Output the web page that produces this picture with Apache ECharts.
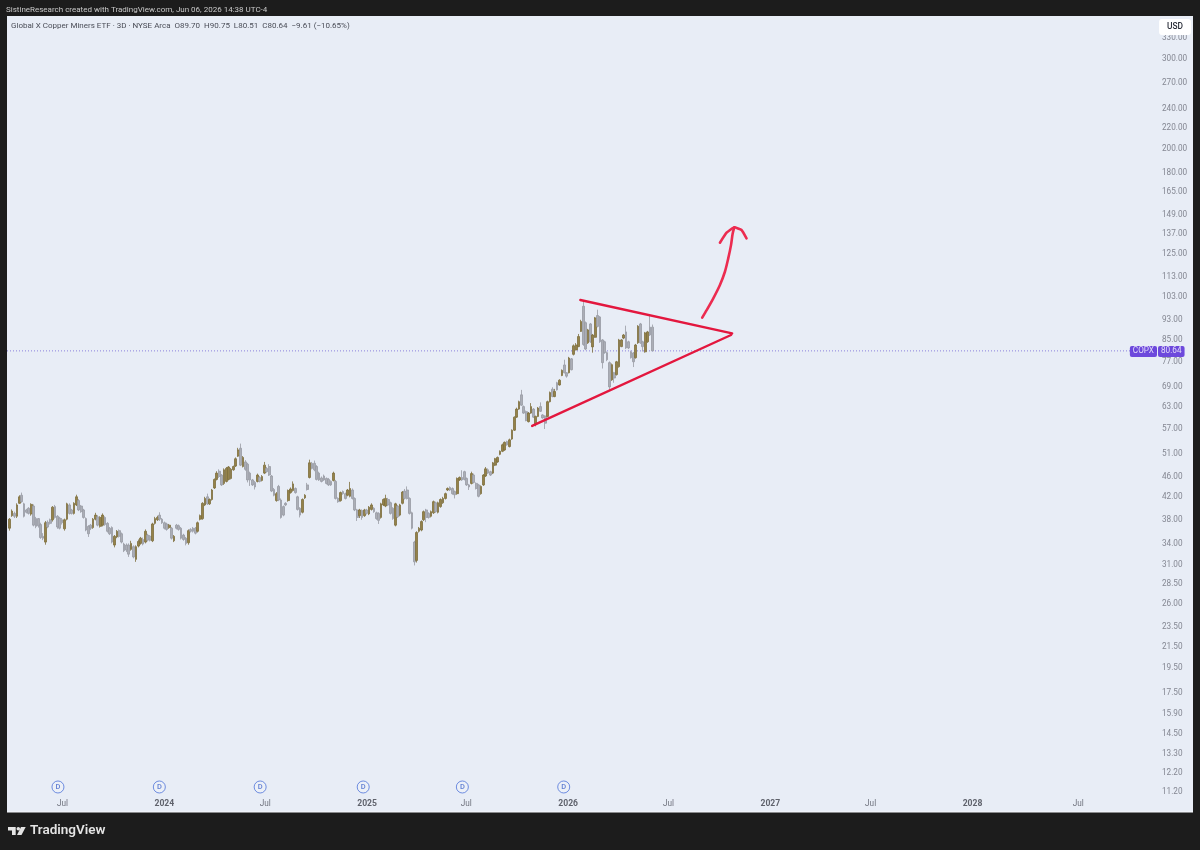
<!DOCTYPE html>
<html><head><meta charset="utf-8">
<style>html,body{margin:0;padding:0;background:#1c1c1c}#c{width:1200px;height:850px}</style>
<script src="https://cdn.jsdelivr.net/npm/echarts@6/dist/echarts.min.js"></script>
</head><body><div id="c"></div>
<script>
const firstBarDate = '2023-03-30';
const barStepDays = 4.296;
// open, close, low, high
const candleRows = [
[36.4,37.9,36.0,38.1],[38.5,39.3,38.3,39.6],[38.9,38.4,38.1,39.2],[38.4,40.4,38.1,40.7],[40.7,41.9,40.6,42.2],[42.2,41.0,40.8,42.7],[40.6,38.4,38.2,40.8],[39.5,39.1,38.9,39.7],[39.8,38.9,38.7,40.0],[38.8,40.5,38.5,40.7],
[40.2,36.9,36.7,40.5],[38.0,36.7,36.4,38.3],[38.0,36.8,36.5,38.1],[37.0,34.9,34.7,37.3],[35.1,34.8,34.5,35.6],[34.2,37.3,33.8,37.6],[37.4,36.6,36.4,37.7],[37.8,37.2,37.0,38.0],[37.8,40.0,37.5,40.2],[40.1,38.2,38.0,40.4],
[38.4,36.6,36.3,38.6],[38.1,36.4,36.2,38.3],[37.8,37.3,37.0,38.1],[36.3,37.8,36.0,38.0],[37.9,40.6,37.7,40.8],[40.4,38.9,38.7,40.7],[39.5,38.9,38.7,39.7],[38.9,40.7,38.7,40.9],[40.4,41.9,40.2,42.3],[41.2,39.5,39.3,41.5],
[40.2,39.2,39.0,40.4],[39.5,38.2,38.0,39.7],[38.0,36.1,35.9,38.2],[36.7,35.5,35.0,36.9],[36.9,36.4,36.1,37.1],[36.5,37.9,36.3,38.1],[37.9,38.6,37.7,39.0],[38.3,36.9,36.7,38.6],[36.7,38.2,36.5,38.4],[36.9,38.6,36.7,38.9],
[38.2,37.0,36.8,38.4],[37.2,35.9,35.7,37.4],[36.4,35.5,35.3,36.6],[36.5,34.2,34.0,36.7],[33.75,35.1,33.4,35.3],[35.0,35.9,34.8,36.1],[36.0,35.1,34.9,36.2],[35.5,34.2,34.0,35.7],[33.9,32.9,32.7,34.1],[33.75,33.0,32.7,34.0],
[33.75,32.4,32.0,34.0],[33.1,34.0,32.9,34.4],[33.5,32.0,31.8,33.7],[31.65,33.5,31.3,33.7],[33.6,34.3,33.4,34.6],[34.0,34.8,33.8,35.0],[34.6,33.9,33.7,34.9],[34.2,35.9,34.0,36.2],[35.3,34.5,34.3,35.5],[35.1,34.5,34.3,35.3],
[34.4,37.1,34.2,37.3],[37.2,38.0,37.0,38.3],[37.8,38.2,37.6,38.5],[38.6,37.9,37.6,39.1],[37.9,37.3,37.1,38.1],[37.3,36.4,36.2,37.5],[37.1,36.2,36.0,37.3],[36.5,36.9,36.3,37.1],[36.4,34.8,34.6,36.6],[34.4,35.1,34.2,35.3],
[36.9,36.4,36.2,37.1],[36.8,36.2,36.0,37.0],[36.4,34.8,34.6,36.6],[35.3,34.6,34.4,35.5],[34.8,34.0,33.7,35.0],[34.1,36.0,33.8,36.2],[36.2,35.9,35.7,36.4],[36.4,35.9,35.7,36.6],[36.4,35.6,35.4,36.6],[35.9,37.3,35.7,37.5],
[37.9,38.5,37.7,38.7],[38.0,40.7,37.8,40.9],[40.4,41.6,40.2,41.9],[41.9,40.6,40.4,42.5],[40.6,41.4,40.4,41.6],[41.4,43.2,41.2,43.4],[43.6,45.3,43.4,45.5],[45.3,46.6,45.1,47.0],[47.0,45.9,45.6,47.4],[46.2,44.2,44.0,46.4],
[44.5,47.3,44.2,47.6],[44.9,47.6,44.7,47.9],[45.3,47.9,45.1,48.1],[45.5,47.4,45.3,47.7],[47.3,48.0,47.1,48.2],[48.1,49.7,47.9,50.0],[50.3,51.7,50.1,52.2],[52.1,48.3,48.1,53.2],[48.0,50.0,47.8,50.3],[49.0,47.4,47.1,49.4],
[48.5,45.2,44.7,48.8],[46.6,45.2,44.0,46.9],[45.2,44.2,44.0,45.4],[44.7,43.8,43.3,45.0],[44.9,46.2,44.7,46.5],[45.7,44.9,44.7,46.0],[45.1,45.9,44.9,46.2],[46.6,48.3,46.4,49.0],[47.6,46.9,46.7,47.9],[48.0,46.2,46.0,48.5],
[46.0,43.0,42.8,46.2],[43.3,42.2,42.0,43.6],[41.2,42.5,41.0,42.8],[43.9,41.3,41.1,44.2],[41.3,38.2,38.0,41.6],[40.1,38.6,38.4,40.3],[40.7,40.4,40.2,40.9],[41.2,43.1,41.0,43.3],[42.7,43.4,42.5,43.7],[43.1,44.4,42.9,44.9],
[43.5,42.7,42.5,43.7],[41.9,39.6,39.4,42.1],[39.8,38.6,38.2,40.0],[39.1,41.4,38.9,41.6],[41.7,42.2,41.5,42.4],[44.2,43.3,43.1,44.6],[45.7,48.8,45.5,49.5],[48.7,47.6,47.4,49.0],[48.7,47.3,47.0,49.3],[48.0,45.3,45.1,48.3],
[46.6,45.2,45.0,46.9],[45.6,44.9,44.7,45.9],[46.0,45.2,45.0,46.3],[45.5,44.5,44.3,45.7],[45.3,44.2,44.0,45.6],[44.9,44.2,44.0,45.1],[45.1,46.6,44.9,46.9],[44.9,41.6,41.4,45.2],[41.6,41.0,40.8,41.8],[41.2,42.7,41.0,42.9],
[42.9,42.5,42.3,43.1],[42.5,41.6,41.4,42.7],[42.2,43.2,42.0,43.4],[42.0,43.5,41.8,44.8],[43.2,41.6,41.4,43.5],[41.6,39.5,39.3,41.8],[39.5,38.2,37.6,39.7],[38.5,39.5,38.1,39.7],[39.4,38.2,37.8,39.6],[38.5,39.5,38.3,39.7],
[39.5,38.9,38.7,39.7],[38.8,40.0,38.6,40.2],[39.6,40.4,39.4,40.7],[39.8,39.2,39.0,40.0],[39.0,38.0,37.8,39.2],[38.9,37.7,37.1,39.1],[38.2,40.6,38.0,40.8],[40.4,41.4,40.2,41.6],[40.2,41.6,40.0,42.3],[41.4,40.4,40.2,41.7],
[40.8,38.9,38.7,41.0],[39.8,38.0,37.8,40.0],[36.9,40.6,36.7,40.8],[40.2,38.3,38.1,40.4],[38.6,40.4,38.4,40.6],[40.7,42.8,40.5,43.0],[43.0,41.6,41.4,43.4],[43.2,41.6,41.4,43.9],[41.6,38.9,38.7,41.8],[39.0,36.4,36.2,39.2],
[34.2,31.3,30.8,34.4],[31.5,35.7,31.2,35.9],[35.9,36.4,35.7,36.6],[36.1,37.5,35.9,37.7],[37.8,39.2,37.6,39.4],[39.5,38.2,37.4,39.7],[38.9,38.2,38.0,39.1],[38.4,39.2,38.2,39.4],[39.0,41.0,38.8,41.2],[40.8,39.2,39.0,41.0],
[39.1,40.8,38.9,41.0],[40.1,41.4,39.9,41.6],[40.8,41.6,40.6,41.9],[41.6,42.5,41.4,42.7],[43.2,43.5,43.0,43.7],[43.7,43.2,43.0,43.9],[43.5,42.5,42.3,43.7],[42.9,42.3,41.6,43.1],[42.5,45.5,42.3,45.7],[45.2,45.7,45.0,45.9],
[45.7,45.2,45.0,47.2],[46.9,45.3,45.1,47.1],[45.5,44.2,44.0,45.7],[44.2,43.8,43.2,44.4],[44.5,46.5,44.3,46.9],[46.2,44.7,44.5,46.5],[44.5,43.5,43.3,44.7],[44.2,42.0,41.8,44.4],[42.5,43.9,42.3,44.1],[44.2,46.2,44.0,46.4],
[46.0,47.5,45.8,47.9],[47.3,46.6,46.4,47.6],[46.9,46.2,46.0,47.1],[46.6,48.8,46.4,49.0],[48.3,49.7,48.1,49.9],[49.0,50.0,48.8,50.2],[50.7,51.4,50.5,51.6],[51.4,52.9,51.2,53.2],[51.7,53.5,51.5,53.7],[53.7,52.9,52.7,53.9],
[52.5,54.1,52.3,54.4],[54.3,56.5,54.1,56.7],[56.5,59.9,56.3,60.1],[59.9,62.1,59.7,62.5],[62.1,64.2,61.9,64.5],[66.2,63.2,63.0,67.7],[62.8,61.0,60.8,63.1],[61.4,59.0,58.8,61.7],[58.7,61.0,58.5,61.3],[61.0,62.8,60.8,63.8],
[62.1,59.9,59.7,62.4],[58.1,60.1,57.5,60.3],[60.1,62.4,59.9,62.7],[62.8,61.5,61.3,64.0],[60.5,59.7,59.5,60.7],[60.2,58.3,56.8,60.4],[60.1,64.2,59.9,64.5],[64.2,66.9,64.0,67.2],[67.9,65.7,65.5,68.5],[65.7,67.2,65.5,68.0],
[69.9,67.7,67.5,70.2],[69.2,70.7,69.0,71.0],[72.2,73.9,72.0,74.2],[75.7,73.1,72.9,77.5],[73.1,72.0,71.5,73.3],[73.1,78.1,72.9,78.5],[77.8,74.1,73.9,78.1],[79.4,82.5,79.0,83.0],[81.0,82.8,80.8,83.5],[82.2,86.0,82.0,87.0],
[88.0,92.0,87.8,92.7],[98.5,83.0,82.5,100.5],[91.5,81.3,80.9,92.0],[83.6,88.6,83.2,89.0],[91.0,84.0,83.6,91.4],[82.1,86.6,80.0,87.0],[85.7,93.5,85.5,93.9],[94.5,90.0,89.6,97.0],[93.9,84.0,83.6,94.3],[84.7,76.5,74.5,85.0],
[84.0,80.0,79.6,84.4],[80.0,77.5,77.0,80.4],[76.5,68.6,67.6,76.9],[70.8,75.8,70.5,76.2],[73.1,71.4,69.9,73.4],[72.5,76.8,72.2,77.1],[75.1,84.7,74.8,85.1],[82.2,84.7,82.0,85.0],[85.4,86.6,85.0,87.0],[87.8,81.7,81.3,90.3],
[84.0,81.7,81.3,84.4],[80.3,78.2,77.9,80.7],[79.9,76.8,75.0,80.2],[78.2,82.8,77.9,83.2],[83.6,90.1,83.2,90.5],[91.0,83.6,83.2,91.4],[84.0,82.2,80.4,84.4],[80.3,87.4,80.0,87.8],[84.0,87.8,83.6,88.2],[89.7,86.6,86.2,94.5],
[89.7,80.64,80.51,90.75]
];
const priceTicks = [330,300,270,240,220,200,180,165,149,137,125,113,103,93,85,77,69,63,57,51,46,42,38,34,31,28.5,26,23.5,21.5,19.5,17.5,15.9,14.5,13.3,12.2,11.2];
const timeTicks = ['2023-07-03','2024-01-03','2024-07-03','2025-01-03','2025-07-01','2026-01-01','2026-07-01','2027-01-01','2027-07-01','2028-01-01','2028-07-10'];
const timeTickPrice = 10.56;
const dividendDates = ['2023-06-25','2023-12-25','2024-06-24','2024-12-27','2025-06-24','2025-12-24'];
const dividendMarkerPrice = 11.4;
const upperLine = [['2026-01-23',101.3],['2026-10-24',87.2]];
const lowerLine = [['2025-10-28',57.6],['2026-10-22',86.6]];
const arrowShaft = [['2026-08-31',93.6],['2026-09-08',96.8],['2026-09-20',102.1],['2026-10-02',108.4],['2026-10-11',115.0],['2026-10-17',122.1],['2026-10-22',129.6],['2026-10-25',136.6],['2026-10-28',140.4]];
const arrowHead = [['2026-10-02',131.0],['2026-10-14',137.0],['2026-10-28',140.4],['2026-11-10',138.7],['2026-11-19',133.6]];
const lastPrice = 80.64;
const axisStart = '2023-03-25', axisEnd = '2028-11-29', priceMin = 10.19, priceMax = 360.6;

const DAY = 86400000, t0 = +new Date(firstBarDate + 'T00:00:00Z');
const barTimes = candleRows.map((_, i) => t0 + i * barStepDays * DAY);
const ts = s => +new Date(s + 'T00:00:00Z');
const font = 'Roboto, "Noto Sans", sans-serif';
const purple = '#4d1fd6', red = '#e3173e', red2 = '#ec2c50';
const redLine = (data, color, width, smooth) => ({type:'line', data:data.map(p=>[ts(p[0]),p[1]]), symbol:'none', smooth:smooth||false, silent:true, z:6,
  lineStyle:{color, width, cap:'round', join:'round'}});

const chart = echarts.init(document.getElementById('c'), null, {renderer:'canvas'});
chart.setOption({
  animation:false,
  backgroundColor:'#1c1c1c',
  grid:{left:7, right:43, top:17, bottom:38, show:false},
  xAxis:{type:'time', min:ts(axisStart), max:ts(axisEnd), axisLine:{show:false}, axisTick:{show:false}, splitLine:{show:false}, axisLabel:{show:false}},
  yAxis:{type:'log', logBase:10, min:priceMin, max:priceMax, position:'right', axisLine:{show:false}, axisTick:{show:false}, splitLine:{show:false},
    axisLabel:{show:false}},
  graphic:[
    {type:'rect', silent:true, z:-10, shape:{x:7,y:16,width:1186,height:796}, style:{fill:'#e8edf6'}},
    {type:'rect', silent:true, z:-9, shape:{x:7,y:811.5,width:1186,height:1}, style:{fill:'#f5f7fb'}},
    {type:'text', z:20, x:6, y:9.5, style:{text:'SistineResearch created with TradingView.com, Jun 06, 2026 14:38 UTC-4', font:'400 8px '+font, fill:'#c9c9c9', textVerticalAlign:'middle'}},
    {type:'text', z:20, x:11, y:26, style:{text:'Global X Copper Miners ETF · 3D · NYSE Arca  O89.70  H90.75  L80.51  C80.64  −9.61 (−10.65%)', font:'400 8px '+font, fill:'#4a4d57', textVerticalAlign:'middle'}},
    {type:'rect', z:20, shape:{x:1159,y:19,width:32,height:16,r:3}, style:{fill:'#ffffff'}},
    {type:'text', z:21, x:1175, y:27, style:{text:'USD', font:'500 8.4px '+font, fill:'#2a2e39', textAlign:'center', textVerticalAlign:'middle'}},
    {type:'text', z:20, x:30, y:831, style:{text:'TradingView', font:'600 13.5px '+font, fill:'#e4e4e4', textVerticalAlign:'middle'}},
    {type:'polygon', z:20, shape:{points:[[8,827],[15.7,827],[15.7,835],[12,835],[12,830.4],[8,830.4]]}, style:{fill:'#e4e4e4'}},
    {type:'circle', z:20, shape:{cx:18.3,cy:828.8,r:1.8}, style:{fill:'#e4e4e4'}},
    {type:'polygon', z:20, shape:{points:[[21,827],[25.7,827],[21.5,835],[17,835]]}, style:{fill:'#e4e4e4'}}
  ],
  series:[
    {type:'candlestick', name:'COPX', data:candleRows.map((r,i)=>[barTimes[i],r[0],r[1],r[2],r[3]]), encode:{x:0,y:[1,2,3,4]}, barWidth:2.2, silent:true, z:3,
      itemStyle:{color:'#94824a', color0:'#abaeb6', borderColor:'#7d6e3c', borderColor0:'#989ba3', borderWidth:0.8}},
    {type:'line', data:[[ts(axisStart),lastPrice],[ts(axisEnd),lastPrice]], symbol:'none', silent:true, z:2,
      lineStyle:{color:'#8b80dc', width:1, type:[1,2]}},
    redLine(upperLine, red, 2.4),
    redLine(lowerLine, red, 2.4),
    redLine(arrowShaft, red2, 2.6, 0.3),
    redLine(arrowHead, red2, 2.6, 0.12),
    {type:'scatter', data:dividendDates.map(d=>[ts(d),dividendMarkerPrice]), symbol:'circle', symbolSize:12, silent:true, z:5,
      itemStyle:{color:'rgba(255,255,255,0.25)', borderColor:'#4d73d9', borderWidth:1},
      label:{show:true, position:'inside', formatter:'D', fontFamily:font, fontSize:7.5, fontWeight:500, color:'#3f63c9'}},
    {type:'scatter', data:timeTicks.map(d=>[ts(d),timeTickPrice]), symbolSize:0, silent:true, z:4,
      label:{show:true, position:'inside', fontFamily:font, fontSize:8.2, color:'#50535e',
        formatter:p=>{const d=new Date(p.value[0]); return d.getUTCMonth()===0 ? '{y|'+d.getUTCFullYear()+'}' : 'Jul';},
        rich:{y:{fontFamily:font, fontSize:8.6, fontWeight:700, color:'#3c3f48'}}}},
    {type:'scatter', data:priceTicks.map(p=>[ts(axisEnd),p]), symbolSize:0, silent:true, z:4, clip:false,
      label:{show:true, position:'right', distance:5, offset:[0,1], formatter:p=>p.value[1].toFixed(2), fontFamily:font, fontSize:8.2, color:'#6a6d78'}},
    {type:'scatter', data:[[ts(axisEnd),lastPrice]], symbolSize:0, silent:true, z:10, clip:false,
      label:{show:true, position:'right', distance:1, offset:[0,0.5], formatter:p=>p.value[1].toFixed(2), fontFamily:font, fontSize:8.2, color:'#fff',
        backgroundColor:purple, padding:[1.5,3,1.5,3], borderRadius:2}},
    {type:'scatter', data:[[ts(axisEnd),lastPrice]], symbolSize:0, silent:true, z:10, clip:false,
      label:{show:true, position:'left', distance:0, offset:[0,0.5], formatter:'COPX', fontFamily:font, fontSize:8.2, color:'#fff',
        backgroundColor:purple, padding:[1.5,3,1.5,3], borderRadius:2}}
  ]
});
</script></body></html>
